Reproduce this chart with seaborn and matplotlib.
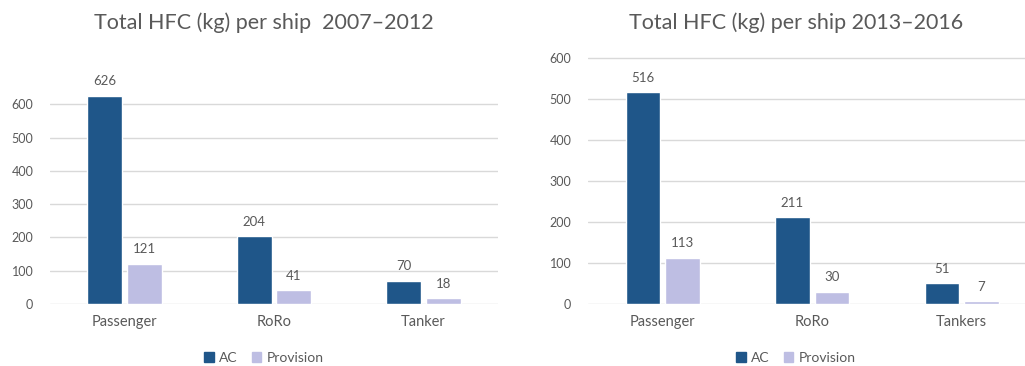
import pandas as pd
import numpy as np
import matplotlib.pyplot as plt
import seaborn as sns

# данные
ships_1 = ['Passenger', 'RoRo', 'Tanker']
ac_1 = [626, 204, 70]
prov_1 = [121, 41, 18]

ships_2 = ['Passenger', 'RoRo', 'Tankers']
ac_2 = [516, 211, 51]
prov_2 = [113, 30, 7]

series = ['AC', 'Provision']
colors = ['#1F5689', '#BEBEE3']
gray = '#595959'

sns.set_style('white')
plt.rcParams['font.family'] = ['Lato', 'DejaVu Sans']

fig = plt.figure(figsize=(10.25, 3.66), dpi=100)
W, H = 1025, 366

def make_df(ships, ac, prov):
    return pd.DataFrame({
        'ship': ships * 2,
        'kg': ac + prov,
        'type': ['AC'] * len(ships) + ['Provision'] * len(ships),
    })

panels = [
    (make_df(ships_1, ac_1, prov_1), 'Total HFC (kg) per ship  2007–2012',
     [50, 448], 700, 264),
    (make_df(ships_2, ac_2, prov_2), 'Total HFC (kg) per ship 2013–2016',
     [588, 448.5], 620, 796),
]

for df, title, (x0, w), ytop, cx in panels:
    px100 = 33.3 if ytop == 700 else 41.0
    h = ytop / 100 * px100
    ax = fig.add_axes([x0 / W, (H - 304) / H, w / W, h / H])
    sns.barplot(data=df, x='ship', y='kg', hue='type', hue_order=series,
                palette=colors, width=0.53, gap=0.12, ax=ax, legend=False,
                saturation=1)
    ax.set_ylim(0, ytop)
    ax.set_xlim(-0.5, 2.5)
    ax.set_yticks(range(0, 700, 100))
    ax.set_xlabel('')
    ax.set_ylabel('')
    for s in ax.spines.values():
        s.set_visible(False)
    ax.set_axisbelow(True)
    for v in range(0, 700, 100):
        if v <= ytop:
            ax.axhline(v, color='#D9D9D9', lw=1, zorder=0)
    ax.tick_params(axis='y', length=0, pad=12, labelsize=9, labelcolor=gray)
    ax.tick_params(axis='x', length=0, pad=8, labelsize=10.5, labelcolor=gray)
    for c in ax.containers:
        ax.bar_label(c, padding=6, fontsize=9.5, color=gray)
    fig.text(cx / W, 1 - 23 / H, title, ha='center', va='center',
             fontsize=15.5, color=gray)
    handles = [plt.Rectangle((0, 0), 1, 1, color=c) for c in colors]
    fig.legend(handles, series, loc='center', bbox_to_anchor=(cx / W, 1 - 358 / H),
               ncol=2, frameon=False, fontsize=10, labelcolor=gray,
               handlelength=0.7, handleheight=0.7, handletextpad=0.4,
               columnspacing=1.0)

fig.savefig('out.png', dpi=100)
